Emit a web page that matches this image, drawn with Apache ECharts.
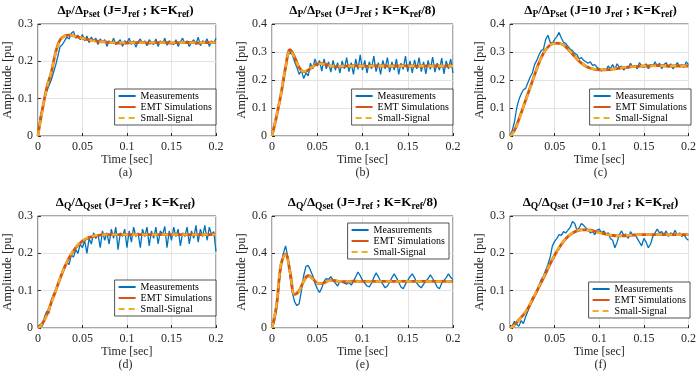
<!DOCTYPE html>
<html>
<head>
<meta charset="utf-8">
<script src="https://cdn.jsdelivr.net/npm/echarts@6/dist/echarts.min.js"></script>
<style>
  html, body { margin: 0; padding: 0; background: #fff; }
  #chart { width: 699px; height: 374px; }
</style>
</head>
<body>
<div id="chart"></div>
<script>
// sampling of the traces
var measStep = 0.0025;   // measurements, every 2.5 ms
var modelStep = 0.005;   // EMT / small-signal curves, every 5 ms

var legendNames = ['Measurements', 'EMT Simulations', 'Small-Signal'];
var captions = ['(a)', '(b)', '(c)', '(d)', '(e)', '(f)'];
var yMaxes = [0.3, 0.4, 0.4, 0.3, 0.6, 0.3];
var yIntervals = [0.1, 0.1, 0.1, 0.1, 0.2, 0.1];
var xTicks = [0, 0.05, 0.1, 0.15, 0.2];

// (a) dP/dPset  J=Jref ; K=Kref
var measA = [
  0, 0.05, 0.075, 0.1, 0.12, 0.135, 0.15, 0.17, 0.19, 0.215,
  0.24, 0.245, 0.255, 0.265, 0.26, 0.275, 0.28, 0.262, 0.27, 0.258,
  0.272, 0.255, 0.268, 0.25, 0.265, 0.255, 0.262, 0.245, 0.26, 0.25,
  0.258, 0.24, 0.255, 0.248, 0.262, 0.245, 0.252, 0.258, 0.24, 0.255,
  0.25, 0.262, 0.245, 0.255, 0.238, 0.252, 0.26, 0.248, 0.255, 0.242,
  0.258, 0.25, 0.245, 0.26, 0.24, 0.255, 0.248, 0.262, 0.243, 0.255,
  0.25, 0.245, 0.258, 0.24, 0.252, 0.262, 0.248, 0.255, 0.24, 0.25,
  0.258, 0.245, 0.265, 0.242, 0.255, 0.25, 0.26, 0.24, 0.255, 0.248,
  0.262
];
var emtA = [
  0, 0.07, 0.13, 0.17, 0.225, 0.258, 0.268, 0.27, 0.268, 0.265,
  0.262, 0.259, 0.257, 0.255, 0.253, 0.252, 0.251, 0.25, 0.249, 0.249,
  0.249, 0.25, 0.25, 0.251, 0.25, 0.249, 0.25, 0.25, 0.251, 0.25,
  0.249, 0.25, 0.25, 0.25, 0.251, 0.25, 0.249, 0.25, 0.25, 0.25,
  0.25
];
var ssA = [
  0, 0.068, 0.128, 0.172, 0.222, 0.255, 0.267, 0.27, 0.268, 0.265,
  0.262, 0.259, 0.256, 0.254, 0.253, 0.252, 0.251, 0.25, 0.25, 0.25,
  0.25, 0.25, 0.25, 0.25, 0.25, 0.25, 0.25, 0.25, 0.25, 0.25,
  0.25, 0.25, 0.25, 0.25, 0.25, 0.25, 0.25, 0.25, 0.25, 0.25,
  0.25
];

// (b) dP/dPset  J=Jref ; K=Kref/8
var measB = [
  0, 0.035, 0.07, 0.11, 0.15, 0.19, 0.24, 0.285, 0.3, 0.29,
  0.265, 0.245, 0.22, 0.235, 0.205, 0.225, 0.215, 0.26, 0.24, 0.275,
  0.25, 0.27, 0.232, 0.275, 0.24, 0.265, 0.228, 0.27, 0.235, 0.262,
  0.225, 0.268, 0.24, 0.28, 0.23, 0.262, 0.22, 0.275, 0.238, 0.29,
  0.235, 0.27, 0.225, 0.265, 0.24, 0.285, 0.23, 0.262, 0.22, 0.27,
  0.24, 0.28, 0.228, 0.265, 0.235, 0.275, 0.22, 0.26, 0.238, 0.285,
  0.23, 0.268, 0.225, 0.272, 0.24, 0.28, 0.23, 0.265, 0.222, 0.27,
  0.238, 0.282, 0.228, 0.26, 0.235, 0.278, 0.222, 0.268, 0.24, 0.275,
  0.225
];
var emtB = [
  0, 0.07, 0.15, 0.245, 0.308, 0.282, 0.245, 0.23, 0.235, 0.248,
  0.257, 0.259, 0.255, 0.25, 0.248, 0.248, 0.249, 0.25, 0.251, 0.25,
  0.25, 0.249, 0.25, 0.251, 0.25, 0.25, 0.249, 0.25, 0.25, 0.251,
  0.25, 0.25, 0.249, 0.25, 0.25, 0.251, 0.25, 0.25, 0.249, 0.25,
  0.25
];
var ssB = [
  0, 0.072, 0.152, 0.245, 0.305, 0.28, 0.245, 0.231, 0.236, 0.248,
  0.256, 0.258, 0.254, 0.25, 0.249, 0.249, 0.25, 0.25, 0.25, 0.25,
  0.25, 0.25, 0.25, 0.25, 0.25, 0.25, 0.25, 0.25, 0.25, 0.25,
  0.25, 0.25, 0.25, 0.25, 0.25, 0.25, 0.25, 0.25, 0.25, 0.25,
  0.25
];

// (c) dP/dPset  J=10 Jref ; K=Kref
var measC = [
  0, 0.02, 0.05, 0.1, 0.13, 0.15, 0.165, 0.17, 0.19, 0.21,
  0.225, 0.255, 0.27, 0.29, 0.305, 0.31, 0.345, 0.36, 0.335, 0.33,
  0.345, 0.355, 0.37, 0.35, 0.335, 0.33, 0.32, 0.31, 0.305, 0.295,
  0.29, 0.275, 0.28, 0.27, 0.265, 0.26, 0.265, 0.252, 0.255, 0.245,
  0.24, 0.232, 0.24, 0.235, 0.25, 0.24, 0.255, 0.238, 0.258, 0.245,
  0.25, 0.235, 0.248, 0.242, 0.26, 0.245, 0.252, 0.24, 0.262, 0.25,
  0.245, 0.258, 0.24, 0.255, 0.248, 0.265, 0.25, 0.26, 0.24, 0.255,
  0.262, 0.245, 0.258, 0.24, 0.25, 0.262, 0.248, 0.255, 0.245, 0.265,
  0.255
];
var emtC = [
  0, 0.02, 0.06, 0.105, 0.15, 0.195, 0.24, 0.28, 0.308, 0.325,
  0.332, 0.331, 0.325, 0.31, 0.293, 0.275, 0.26, 0.249, 0.242, 0.238,
  0.236, 0.236, 0.237, 0.239, 0.241, 0.243, 0.245, 0.247, 0.248, 0.249,
  0.25, 0.25, 0.251, 0.251, 0.251, 0.25, 0.25, 0.25, 0.25, 0.25,
  0.25
];
var ssC = [
  0, 0.019, 0.058, 0.103, 0.148, 0.194, 0.239, 0.279, 0.307, 0.324,
  0.331, 0.33, 0.324, 0.31, 0.293, 0.276, 0.261, 0.25, 0.243, 0.239,
  0.237, 0.237, 0.238, 0.24, 0.242, 0.244, 0.246, 0.247, 0.248, 0.249,
  0.25, 0.25, 0.25, 0.25, 0.25, 0.25, 0.25, 0.25, 0.25, 0.25,
  0.25
];

// (d) dQ/dQset  J=Jref ; K=Kref
var measD = [
  0, 0.01, 0.005, 0.03, 0.045, 0.04, 0.075, 0.09, 0.1, 0.12,
  0.135, 0.15, 0.16, 0.175, 0.17, 0.195, 0.19, 0.21, 0.2, 0.225,
  0.215, 0.235, 0.2, 0.24, 0.225, 0.255, 0.24, 0.25, 0.215, 0.26,
  0.235, 0.255, 0.225, 0.265, 0.24, 0.27, 0.21, 0.255, 0.245, 0.265,
  0.215, 0.26, 0.23, 0.27, 0.245, 0.255, 0.215, 0.265, 0.245, 0.27,
  0.22, 0.26, 0.24, 0.27, 0.225, 0.26, 0.25, 0.272, 0.215, 0.26,
  0.235, 0.27, 0.245, 0.265, 0.22, 0.255, 0.245, 0.27, 0.225, 0.26,
  0.24, 0.275, 0.23, 0.265, 0.245, 0.275, 0.235, 0.27, 0.25, 0.258,
  0.205
];
var emtD = [
  0, 0.012, 0.035, 0.068, 0.1, 0.133, 0.163, 0.188, 0.207, 0.222,
  0.233, 0.24, 0.244, 0.247, 0.249, 0.25, 0.25, 0.25, 0.25, 0.25,
  0.25, 0.25, 0.25, 0.25, 0.25, 0.25, 0.25, 0.25, 0.25, 0.25,
  0.25, 0.25, 0.25, 0.25, 0.25, 0.25, 0.25, 0.25, 0.25, 0.25,
  0.25
];
var ssD = [
  0, 0.011, 0.034, 0.067, 0.1, 0.134, 0.164, 0.19, 0.209, 0.224,
  0.234, 0.241, 0.245, 0.248, 0.249, 0.25, 0.25, 0.25, 0.25, 0.25,
  0.25, 0.25, 0.25, 0.25, 0.25, 0.25, 0.25, 0.25, 0.25, 0.25,
  0.25, 0.25, 0.25, 0.25, 0.25, 0.25, 0.25, 0.25, 0.25, 0.25,
  0.25
];

// (e) dQ/dQset  J=Jref ; K=Kref/8
var measE = [
  0, 0.03, 0.1, 0.22, 0.33, 0.4, 0.44, 0.38, 0.27, 0.19,
  0.14, 0.12, 0.13, 0.2, 0.28, 0.33, 0.335, 0.31, 0.28, 0.24,
  0.21, 0.19, 0.215, 0.25, 0.265, 0.26, 0.275, 0.255, 0.24, 0.225,
  0.25, 0.245, 0.24, 0.235, 0.245, 0.23, 0.25, 0.275, 0.3, 0.28,
  0.255, 0.24, 0.225, 0.22, 0.24, 0.27, 0.295, 0.275, 0.25, 0.235,
  0.215, 0.225, 0.245, 0.27, 0.29, 0.27, 0.245, 0.22, 0.21, 0.235,
  0.255, 0.275, 0.29, 0.27, 0.24, 0.225, 0.215, 0.235, 0.25, 0.265,
  0.285, 0.265, 0.245, 0.22, 0.21, 0.24, 0.255, 0.27, 0.29, 0.27,
  0.26
];
var emtE = [
  0, 0.12, 0.34, 0.395, 0.3, 0.18, 0.2, 0.25, 0.28, 0.265,
  0.24, 0.238, 0.248, 0.256, 0.254, 0.249, 0.248, 0.25, 0.251, 0.25,
  0.25, 0.25, 0.25, 0.25, 0.25, 0.25, 0.25, 0.25, 0.25, 0.25,
  0.25, 0.25, 0.25, 0.25, 0.25, 0.25, 0.25, 0.25, 0.25, 0.25,
  0.25
];
var ssE = [
  0, 0.125, 0.345, 0.392, 0.295, 0.182, 0.198, 0.252, 0.277, 0.263,
  0.241, 0.239, 0.249, 0.255, 0.253, 0.249, 0.249, 0.25, 0.25, 0.25,
  0.25, 0.25, 0.25, 0.25, 0.25, 0.25, 0.25, 0.25, 0.25, 0.25,
  0.25, 0.25, 0.25, 0.25, 0.25, 0.25, 0.25, 0.25, 0.25, 0.25,
  0.25
];

// (f) dQ/dQset  J=10 Jref ; K=Kref
var measF = [
  0, 0.005, 0.018, 0.01, 0.005, 0.02, 0.012, 0.03, 0.045, 0.06,
  0.08, 0.09, 0.1, 0.115, 0.13, 0.14, 0.155, 0.17, 0.19, 0.22,
  0.232, 0.24, 0.25, 0.248, 0.258, 0.255, 0.262, 0.27, 0.285, 0.28,
  0.262, 0.268, 0.28, 0.275, 0.268, 0.262, 0.255, 0.258, 0.25, 0.262,
  0.265, 0.255, 0.26, 0.25, 0.255, 0.24, 0.235, 0.215, 0.23, 0.25,
  0.26, 0.248, 0.252, 0.24, 0.258, 0.248, 0.252, 0.24, 0.23, 0.22,
  0.24, 0.23, 0.215, 0.225, 0.245, 0.255, 0.265, 0.255, 0.258, 0.25,
  0.26, 0.245, 0.255, 0.25, 0.262, 0.248, 0.255, 0.245, 0.25, 0.24,
  0.235
];
var emtF = [
  0, 0.008, 0.022, 0.035, 0.052, 0.075, 0.098, 0.122, 0.146, 0.172,
  0.195, 0.215, 0.232, 0.245, 0.254, 0.26, 0.263, 0.263, 0.262, 0.259,
  0.256, 0.253, 0.25, 0.248, 0.247, 0.247, 0.247, 0.248, 0.249, 0.25,
  0.25, 0.25, 0.25, 0.25, 0.25, 0.25, 0.25, 0.25, 0.25, 0.25,
  0.25
];
var ssF = [
  0, 0.007, 0.021, 0.036, 0.054, 0.077, 0.1, 0.124, 0.148, 0.173,
  0.196, 0.216, 0.233, 0.246, 0.255, 0.261, 0.263, 0.263, 0.261, 0.258,
  0.255, 0.252, 0.25, 0.248, 0.247, 0.247, 0.248, 0.249, 0.249, 0.25,
  0.25, 0.25, 0.25, 0.25, 0.25, 0.25, 0.25, 0.25, 0.25, 0.25,
  0.25
];

var measAll = [measA, measB, measC, measD, measE, measF];
var emtAll = [emtA, emtB, emtC, emtD, emtE, emtF];
var ssAll = [ssA, ssB, ssC, ssD, ssE, ssF];

// titles, rich text for the subscripts
var titles = [
  '{m|Δ}{s|P}{m|/Δ}{s|Pset}{m| (J=J}{s|ref}{m| ; K=K}{s|ref}{m|)}',
  '{m|Δ}{s|P}{m|/Δ}{s|Pset}{m| (J=J}{s|ref}{m| ; K=K}{s|ref}{m|/8)}',
  '{m|Δ}{s|P}{m|/Δ}{s|Pset}{m| (J=10 J}{s|ref}{m| ; K=K}{s|ref}{m|)}',
  '{m|Δ}{s|Q}{m|/Δ}{s|Qset}{m| (J=J}{s|ref}{m| ; K=K}{s|ref}{m|)}',
  '{m|Δ}{s|Q}{m|/Δ}{s|Qset}{m| (J=J}{s|ref}{m| ; K=K}{s|ref}{m|/8)}',
  '{m|Δ}{s|Q}{m|/Δ}{s|Qset}{m| (J=10 J}{s|ref}{m| ; K=K}{s|ref}{m|)}'
];

function toPairs(values, step) {
  return values.map(function (v, i) {
    return [+(i * step).toFixed(4), v];
  });
}

var chart = echarts.init(document.getElementById('chart'));

var font = '"Liberation Serif", "Times New Roman", serif';
var ink = '#262626';
var colors = ['#0072BD', '#D95319', '#EDB120'];

// layout of the 2x3 panels
var gridLefts = [35, 272, 510];
var gridTops = [24, 216];
var gridW = 181;
var gridH = 112;
var legendPos = [
  { right: 483, top: 89 },
  { right: 246, top: 89 },
  { right: 8, top: 89 },
  { right: 483, top: 280 },
  { right: 250, top: 223 },
  { right: 9, top: 282 }
];

var grids = [], xAxes = [], yAxes = [], series = [], titleList = [], legends = [];

for (var i = 0; i < 6; i++) {
  var gLeft = gridLefts[i % 3];
  var gTop = gridTops[Math.floor(i / 3)];
  var cx = gLeft + gridW / 2;

  grids.push({
    left: gLeft, top: gTop, width: gridW, height: gridH,
    show: true, borderColor: ink, borderWidth: 0.8, backgroundColor: '#fff'
  });

  xAxes.push({
    gridIndex: i, type: 'value', min: 0, max: 0.2, interval: 0.05,
    name: 'Time [sec]', nameLocation: 'middle', nameGap: 18,
    nameTextStyle: { fontFamily: font, fontSize: 12, color: ink },
    axisLine: { show: false },
    axisTick: { show: true, inside: true, length: 3, lineStyle: { color: ink } },
    axisLabel: {
      fontFamily: font, fontSize: 12, color: ink, margin: 5,
      formatter: function (v) { return xTicks.indexOf(+v.toFixed(2)) >= 0 ? String(+v.toFixed(2)) : ''; }
    },
    splitLine: { show: true, lineStyle: { color: '#e3e3e3', width: 1 } }
  });

  yAxes.push({
    gridIndex: i, type: 'value', min: 0, max: yMaxes[i], interval: yIntervals[i],
    name: 'Amplitude [pu]', nameLocation: 'middle', nameGap: 16,
    nameTextStyle: { fontFamily: font, fontSize: 12.5, color: ink },
    axisLine: { show: false },
    axisTick: { show: true, inside: true, length: 3, lineStyle: { color: ink } },
    axisLabel: {
      fontFamily: font, fontSize: 12, color: ink, margin: 5,
      formatter: function (v) { return String(+v.toFixed(2)); }
    },
    splitLine: { show: true, lineStyle: { color: '#e3e3e3', width: 1 } }
  });

  series.push({
    name: legendNames[0], type: 'line', xAxisIndex: i, yAxisIndex: i,
    data: toPairs(measAll[i], measStep), symbol: 'none',
    lineStyle: { color: colors[0], width: 1.3 }, itemStyle: { color: colors[0] },
    z: 2
  });
  series.push({
    name: legendNames[1], type: 'line', xAxisIndex: i, yAxisIndex: i,
    data: toPairs(emtAll[i], modelStep), symbol: 'none', smooth: 0.4,
    lineStyle: { color: colors[1], width: 2.8 }, itemStyle: { color: colors[1] },
    z: 3
  });
  series.push({
    name: legendNames[2], type: 'line', xAxisIndex: i, yAxisIndex: i,
    data: toPairs(ssAll[i], modelStep), symbol: 'none', smooth: 0.4,
    lineStyle: { color: colors[2], width: 2.3, type: [6, 4] }, itemStyle: { color: colors[2] },
    z: 4
  });

  titleList.push({
    text: titles[i], left: cx, top: gTop - 20, textAlign: 'center', padding: 0,
    textStyle: {
      rich: {
        m: { fontFamily: font, fontWeight: 'bold', fontSize: 13, color: '#000', lineHeight: 14, verticalAlign: 'top' },
        s: { fontFamily: font, fontWeight: 'bold', fontSize: 9.5, color: '#000', lineHeight: 16, verticalAlign: 'bottom' }
      }
    }
  });
  titleList.push({
    text: captions[i], left: cx, top: gTop + gridH + 31, textAlign: 'center', padding: 0,
    textStyle: { fontFamily: font, fontSize: 12, fontWeight: 'normal', color: ink }
  });

  legends.push({
    data: legendNames, orient: 'vertical',
    right: legendPos[i].right, top: legendPos[i].top,
    backgroundColor: '#fff', borderColor: ink, borderWidth: 0.8, borderRadius: 0,
    padding: [2, 4, 2, 3], itemGap: 1, itemWidth: 17, itemHeight: 10,
    selectedMode: false,
    itemStyle: { color: 'rgba(0,0,0,0)', borderWidth: 0, opacity: 0 },
    textStyle: { fontFamily: font, fontSize: 10, color: '#000' }
  });
}

chart.setOption({
  backgroundColor: '#fff',
  animation: false,
  title: titleList,
  legend: legends,
  grid: grids,
  xAxis: xAxes,
  yAxis: yAxes,
  series: series
});
</script>
</body>
</html>
